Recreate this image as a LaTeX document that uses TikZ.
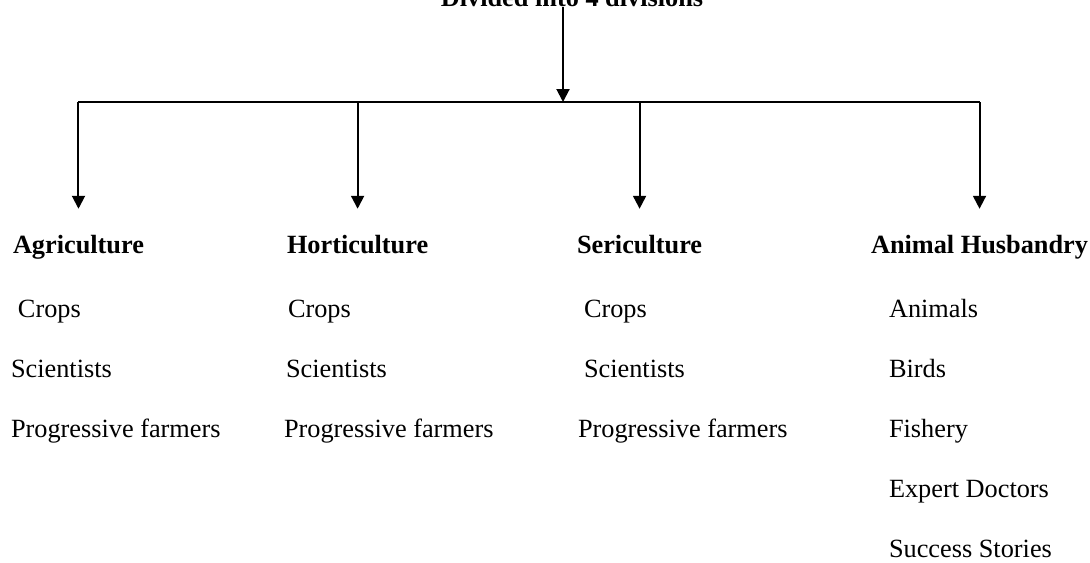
\documentclass[tikz,border=0pt]{standalone}
\usepackage{fontspec}
\setmainfont{Liberation Serif}
\usepackage{tikz}
\usetikzlibrary{%
  calc,arrows.meta,positioning}
\tikzset {>={Triangle[width=6.5pt,length=6.5pt]}}
\tikzset {txt/.style={anchor=base west,inner sep=0pt,
    font=\fontsize{13.15}{16}\selectfont},
  hd/.style={txt,font=\fontsize{13.15}{16}\selectfont\bfseries}}

\begin{document}
\begin{tikzpicture}[x=0.5pt,y=-0.5pt,line width=1pt]
\useasboundingbox (0,0) rectangle (1090,562);
\node[hd,anchor=base] (title) at (572,6) {Divided into 4 divisions};
\coordinate (hub) at (563,102);
% division headings
\node[hd] (agri) at (12,253) {Agriculture};
\node[hd] (hort) at (286,253) {Horticulture};
\node[hd] (seri) at (576,253) {Sericulture};
\node[hd] (anim) at (870,253) {Animal Husbandry};
% arrows
\draw[->] (hub |- title.south) -- (hub);
\draw (hub -| agri.north) -- (hub -| anim.north);
\foreach \d in {agri,hort,seri,anim}
  \draw[->,shorten >=12.5pt] (hub -| \d.north) -- (\d.north);
% lists
\node[txt] (agri1) at (17,317) {Crops};
\node[txt] (agri2) at (10,377) {Scientists};
\node[txt] (agri3) at (10,437) {Progressive farmers};
\node[txt] (hort1) at (287,317) {Crops};
\node[txt] (hort2) at (285,377) {Scientists};
\node[txt] (hort3) at (283,437) {Progressive farmers};
\node[txt] (seri1) at (583,317) {Crops};
\node[txt] (seri2) at (583,377) {Scientists};
\node[txt] (seri3) at (577,437) {Progressive farmers};
\node[txt] (anim1) at (888,317) {Animals};
\node[txt] (anim2) at (888,377) {Birds};
\node[txt] (anim3) at (888,437) {Fishery};
\node[txt] (anim4) at (888,497) {Expert Doctors};
\node[txt] (anim5) at (888,557) {Success Stories};
\end{tikzpicture}
\end{document}
